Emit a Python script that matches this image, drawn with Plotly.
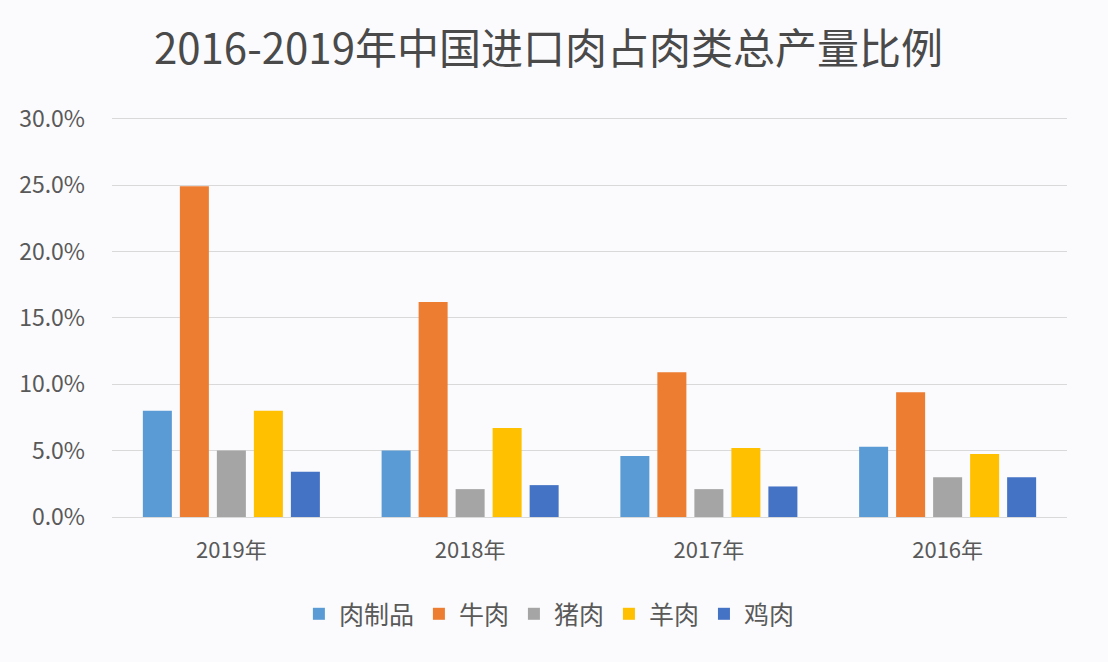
import plotly.graph_objects as go

years = ["2019年", "2018年", "2017年", "2016年"]
series_names = ["肉制品", "牛肉", "猪肉", "羊肉", "鸡肉"]
meat_products = [0.080, 0.050, 0.046, 0.053]
beef = [0.249, 0.162, 0.109, 0.094]
pork = [0.050, 0.021, 0.021, 0.030]
mutton = [0.080, 0.067, 0.052, 0.0475]
chicken = [0.034, 0.024, 0.023, 0.030]
colors = ["#5B9BD5", "#ED7D31", "#A5A5A5", "#FFC000", "#4472C4"]

FONT = "Noto Sans CJK SC, Noto Sans, sans-serif"
TXT = "#595959"

fig = go.Figure()
for name, vals, c in zip(series_names, [meat_products, beef, pork, mutton, chicken], colors):
    fig.add_trace(go.Bar(x=years, y=vals, name=name, marker=dict(color=c, line=dict(width=0))))

fig.update_layout(
    width=1108, height=662,
    paper_bgcolor="#FBFBFD", plot_bgcolor="#FBFBFD",
    margin=dict(l=112, r=41, t=116, b=145),
    barmode="group", bargap=0.225, bargroupgap=0.216,
    title=dict(text="2016-2019年中国进口肉占肉类总产量比例", x=0.495, xanchor="center",
               y=0.925, yanchor="middle", font=dict(family=FONT, size=42, color="#4a4a4a")),
    font=dict(family=FONT, color=TXT),
    showlegend=True,
    legend=dict(orientation="h", x=0.458, xanchor="center", y=-0.242, yanchor="middle",
                font=dict(size=25, color=TXT), itemsizing="constant", traceorder="normal"),
    xaxis=dict(showgrid=False, showline=False, ticks="", tickfont=dict(size=22, color=TXT),
               ticklabelstandoff=18),
    yaxis=dict(range=[0, 0.302], tickvals=[0, 0.05, 0.10, 0.15, 0.20, 0.25, 0.30],
               tickformat=".1%", showgrid=True, gridcolor="#D9D9D9",
               gridwidth=1, zeroline=True, zerolinecolor="#D9D9D9", zerolinewidth=1,
               showline=False, ticks="", tickfont=dict(size=23, color=TXT), ticklabelstandoff=26),
)

fig.write_html("out.html")
